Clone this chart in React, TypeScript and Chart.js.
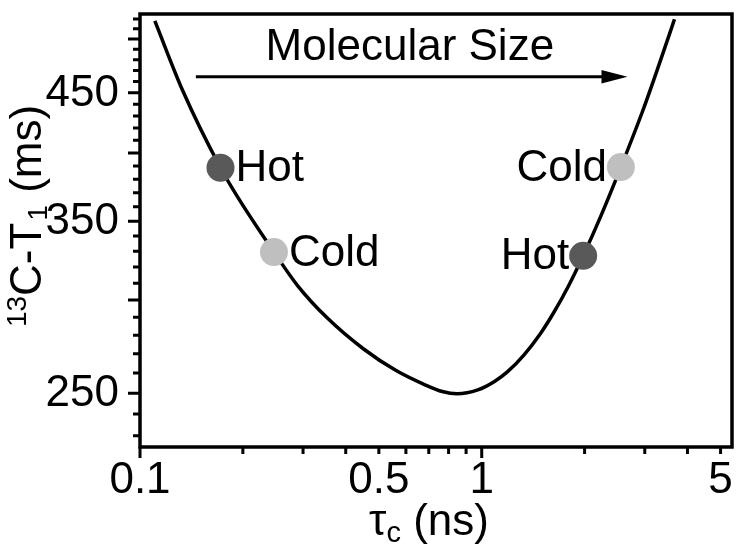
import React, { useEffect, useRef } from "react";
import { Chart, registerables } from "chart.js";

Chart.register(...registerables);

// ---- data ----
const curveTau = [0.1105, 0.1333, 0.172, 0.1942, 0.2466, 0.2891, 0.3528, 0.4502, 0.5616, 0.685, 0.7667, 0.8473, 0.9738, 1.0901, 1.1883, 1.3302, 1.4862, 1.6234, 1.7929, 1.981, 2.2326, 2.554, 2.969, 3.301, 3.6646];
const curveT1 = [518.0, 452.0, 388.6, 366.0, 329.5, 308.6, 289.7, 272.7, 261.3, 254.0, 250.8, 249.7, 251.6, 255.8, 260.6, 269.5, 281.0, 292.6, 308.2, 327.1, 353.7, 389.1, 435.5, 475.2, 519.6];

const hotTau = [0.172, 1.981];
const hotT1 = [388.6, 327.1];
const coldTau = [0.2466, 2.554];
const coldT1 = [329.5, 389.1];
const hotLabelSide = ["right", "left"];
const coldLabelSide = ["right", "left"];

const xTickValues = [0.1, 0.2, 0.3, 0.4, 0.5, 0.6, 0.7, 0.8, 0.9, 1, 2, 3, 4, 5];
const xMajorTicks = [0.1, 1];
const xTickLabels = [0.1, 0.5, 1, 5];
const yTickValues = [230, 240, 250, 260, 270, 280, 290, 300, 310, 320, 330, 340, 350, 360, 370, 380, 390, 400, 410, 420, 430, 440, 450, 460, 470, 480, 490, 500, 510, 520];
const yMajorTicks = [250, 300, 350, 400, 450, 500];
const yTickLabels = [250, 350, 450];

const xRange = [0.1, 5.4];
const yRange = [225, 525];

const arrowTau = [0.1457, 2.67];
const arrowT1 = 464.4;
const sizeLabel = "Molecular Size";
const sizeLabelTau = 0.616;
const sizeLabelT1 = 480;

const FONT = "Liberation Sans, Arial, Helvetica, sans-serif";

const overlay = {
  id: "overlay",
  afterDraw(chart: any) {
    const { ctx, chartArea: a, scales } = chart;
    const xs = scales.x;
    const ys = scales.y;
    ctx.save();
    ctx.strokeStyle = "#000";
    ctx.fillStyle = "#000";

    // frame
    ctx.lineWidth = 3.5;
    ctx.strokeRect(a.left, a.top, a.right - a.left, a.bottom - a.top);

    // tick marks
    ctx.lineWidth = 3;
    ctx.lineCap = "butt";
    ctx.beginPath();
    xTickValues.forEach((v) => {
      const px = xs.getPixelForValue(v);
      const len = xMajorTicks.includes(v) ? 11 : 7;
      ctx.moveTo(px, a.bottom);
      ctx.lineTo(px, a.bottom + len);
    });
    yTickValues.forEach((v) => {
      const py = ys.getPixelForValue(v);
      const len = yMajorTicks.includes(v) ? 12 : 7;
      ctx.moveTo(a.left, py);
      ctx.lineTo(a.left - len, py);
    });
    ctx.stroke();

    // tick labels
    ctx.font = `44px ${FONT}`;
    ctx.textBaseline = "alphabetic";
    ctx.textAlign = "center";
    xTickLabels.forEach((v) => {
      ctx.fillText(String(v), xs.getPixelForValue(v), a.bottom + 46);
    });
    ctx.textAlign = "right";
    yTickLabels.forEach((v) => {
      ctx.fillText(String(v), a.left - 21, ys.getPixelForValue(v) + 13);
    });

    // x title: tau_c (ns)
    {
      const big = `44px ${FONT}`;
      const small = `29px ${FONT}`;
      ctx.font = big;
      const w1 = ctx.measureText("\u03C4").width;
      const w3 = ctx.measureText(" (ns)").width;
      ctx.font = small;
      const w2 = ctx.measureText("c").width;
      const total = w1 + w2 + w3;
      const cx = (a.left + a.right) / 2 - 7;
      const base = 535;
      let x = cx - total / 2;
      ctx.textAlign = "left";
      ctx.font = big;
      ctx.fillText("\u03C4", x, base);
      x += w1;
      ctx.font = small;
      ctx.fillText("c", x, base + 7);
      x += w2;
      ctx.font = big;
      ctx.fillText(" (ns)", x, base);
    }

    // y title: 13C-T1 (ms)
    {
      const big = `44px ${FONT}`;
      const small = `28px ${FONT}`;
      ctx.font = small;
      const s1 = ctx.measureText("13").width;
      const s3 = ctx.measureText("1").width;
      ctx.font = big;
      const s2 = ctx.measureText("C-T").width;
      const s4 = ctx.measureText(" (ms)").width;
      const total = s1 + s2 + s3 + s4 + 2;
      ctx.translate(41, 216);
      ctx.rotate(-Math.PI / 2);
      ctx.textAlign = "left";
      let x = -total / 2;
      ctx.font = small;
      ctx.fillText("13", x, -15);
      x += s1;
      ctx.font = big;
      ctx.fillText("C-T", x, 0);
      x += s2 + 2;
      ctx.font = small;
      ctx.fillText("1", x, 6);
      x += s3;
      ctx.font = big;
      ctx.fillText(" (ms)", x, 0);
      ctx.setTransform(1, 0, 0, 1, 0, 0);
    }

    // arrow + "Molecular Size"
    {
      const x0 = xs.getPixelForValue(arrowTau[0]);
      const x1 = xs.getPixelForValue(arrowTau[1]);
      const y = ys.getPixelForValue(arrowT1);
      const headLen = 26;
      const headHalf = 6.7;
      ctx.lineWidth = 3;
      ctx.beginPath();
      ctx.moveTo(x0, y);
      ctx.lineTo(x1 - headLen + 2, y);
      ctx.stroke();
      ctx.beginPath();
      ctx.moveTo(x1, y);
      ctx.lineTo(x1 - headLen, y - headHalf);
      ctx.lineTo(x1 - headLen, y + headHalf);
      ctx.closePath();
      ctx.fill();
      ctx.font = `44px ${FONT}`;
      ctx.textAlign = "center";
      ctx.fillText(sizeLabel, xs.getPixelForValue(sizeLabelTau), ys.getPixelForValue(sizeLabelT1));
    }

    // point labels
    ctx.font = `44px ${FONT}`;
    const drawLabels = (taus: number[], t1s: number[], sides: string[], text: string) => {
      taus.forEach((t, i) => {
        const px = xs.getPixelForValue(t);
        const py = ys.getPixelForValue(t1s[i]);
        if (sides[i] === "right") {
          ctx.textAlign = "left";
          ctx.fillText(text, px + 15, py + 13.5);
        } else {
          ctx.textAlign = "right";
          ctx.fillText(text, px - 14, py + 13.5);
        }
      });
    };
    drawLabels(hotTau, hotT1, hotLabelSide, "Hot");
    drawLabels(coldTau, coldT1, coldLabelSide, "Cold");

    ctx.restore();
  },
};

export default function App() {
  const ref = useRef<HTMLCanvasElement | null>(null);
  useEffect(() => {
    if (!ref.current) return;
    const chart = new Chart(ref.current, {
      type: "scatter",
      data: {
        datasets: [
          {
            label: "Hot",
            data: hotTau.map((t, i) => ({ x: t, y: hotT1[i] })),
            backgroundColor: "#595959",
            borderWidth: 0,
            pointRadius: 14,
            order: 0,
          },
          {
            label: "Cold",
            data: coldTau.map((t, i) => ({ x: t, y: coldT1[i] })),
            backgroundColor: "#bfbfbf",
            borderWidth: 0,
            pointRadius: 14,
            order: 0,
          },
          {
            type: "line",
            label: "T1",
            data: curveTau.map((t, i) => ({ x: t, y: curveT1[i] })),
            borderColor: "#000",
            borderWidth: 3.5,
            pointRadius: 0,
            showLine: true,
            fill: false,
            cubicInterpolationMode: "monotone",
            order: 2,
          } as any,
        ],
      },
      options: {
        animation: false,
        responsive: false,
        devicePixelRatio: 1,
        layout: { padding: { top: 2, right: 3, left: 0, bottom: 0 } },
        plugins: { legend: { display: false }, tooltip: { enabled: false } },
        scales: {
          x: {
            type: "logarithmic",
            min: xRange[0],
            max: xRange[1],
            grid: { display: false, drawTicks: false },
            border: { display: false },
            ticks: { display: false },
            afterFit: (s: any) => {
              s.height = 99;
            },
          },
          y: {
            type: "logarithmic",
            min: yRange[0],
            max: yRange[1],
            grid: { display: false, drawTicks: false },
            border: { display: false },
            ticks: { display: false },
            afterFit: (s: any) => {
              s.width = 140;
            },
          },
        },
      } as any,
      plugins: [overlay],
    });
    return () => chart.destroy();
  }, []);
  return (
    <div style={{ position: "absolute", left: 0, top: 0, width: 746, height: 546, background: "#fff" }}>
      <canvas ref={ref} width={746} height={546} style={{ display: "block" }} />
    </div>
  );
}
